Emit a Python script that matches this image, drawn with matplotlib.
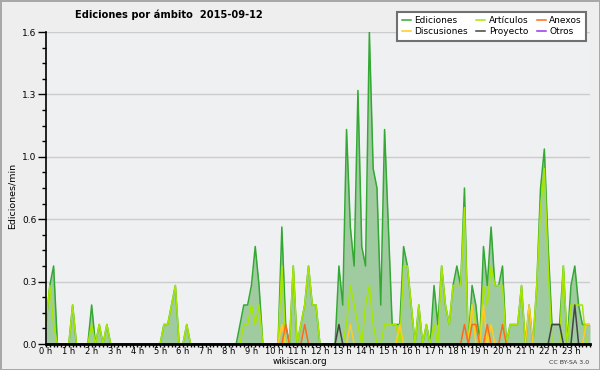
import numpy as np
import matplotlib.pyplot as plt
from matplotlib.ticker import MultipleLocator, FormatStrFormatter
from matplotlib.lines import Line2D

plt.rcParams['font.family'] = ['DejaVu Sans']

# 10-minute bins, edits per minute (one row per hour)
ediciones = [
    0.1, 0.3, 0.4, 0, 0, 0,
    0, 0.2, 0, 0, 0, 0,
    0.2, 0, 0.1, 0, 0.1, 0,
    0, 0, 0, 0, 0, 0,
    0, 0, 0, 0, 0, 0,
    0, 0.1, 0.1, 0.2, 0.3, 0,
    0, 0.1, 0, 0, 0, 0,
    0, 0, 0, 0, 0, 0,
    0, 0, 0, 0.1, 0.2, 0.2,
    0.3, 0.5, 0.3, 0, 0, 0,
    0, 0, 0.6, 0.1, 0, 0.4,
    0, 0.1, 0.2, 0.4, 0.2, 0.2,
    0, 0, 0, 0, 0, 0.4,
    0.2, 1.1, 0.6, 0.4, 1.3, 0.5,
    0.4, 1.6, 0.9, 0.8, 0.2, 1.1,
    0.6, 0.1, 0.1, 0.1, 0.5, 0.4,
    0.2, 0, 0.2, 0, 0.1, 0,
    0.3, 0.1, 0.4, 0.2, 0.1, 0.3,
    0.4, 0.3, 0.8, 0, 0.3, 0.2,
    0, 0.5, 0.3, 0.6, 0.3, 0.3,
    0.4, 0, 0.1, 0.1, 0.1, 0.3,
    0, 0.2, 0, 0.3, 0.8, 1.0,
    0.5, 0.1, 0.1, 0.1, 0.4, 0,
    0.3, 0.4, 0.2, 0.1, 0.1, 0.1,
]

articulos = [
    0.1, 0.3, 0.1, 0, 0, 0,
    0, 0.2, 0, 0, 0, 0,
    0.1, 0, 0.1, 0, 0.1, 0,
    0, 0, 0, 0, 0, 0,
    0, 0, 0, 0, 0, 0,
    0, 0.1, 0.1, 0.2, 0.3, 0,
    0, 0.1, 0, 0, 0, 0,
    0, 0, 0, 0, 0, 0,
    0, 0, 0, 0, 0.1, 0.1,
    0.2, 0.1, 0.2, 0, 0, 0,
    0, 0, 0.4, 0, 0, 0.4,
    0, 0.1, 0.2, 0.4, 0.2, 0.2,
    0, 0, 0, 0, 0, 0,
    0, 0.1, 0.3, 0.2, 0.1, 0,
    0.2, 0.3, 0.1, 0, 0, 0.1,
    0.1, 0.1, 0.1, 0, 0.4, 0.4,
    0.2, 0, 0.2, 0, 0.1, 0,
    0.1, 0, 0.4, 0.2, 0.1, 0.3,
    0.3, 0.3, 0.7, 0, 0.2, 0.1,
    0, 0.3, 0.2, 0.4, 0.3, 0.3,
    0.3, 0, 0.1, 0.1, 0.1, 0.3,
    0, 0, 0, 0.3, 0.7, 0.9,
    0.4, 0, 0, 0, 0.4, 0,
    0.2, 0.2, 0.2, 0.2, 0, 0,
]

# sparse series: {bin: value}
anexos_pts = {63: 0.1, 68: 0.1, 110: 0.1, 112: 0.1, 113: 0.1, 116: 0.1, 120: 0.1}
discusiones_pts = {62: 0.1, 80: 0.1, 93: 0.1, 112: 0.2, 115: 0.2, 117: 0.1,
                   127: 0.2, 142: 0.1, 143: 0.1}
proyecto_pts = {77: 0.1, 133: 0.1, 134: 0.1, 135: 0.1, 139: 0.2}
otros_pts = {}

hours = np.arange(144) / 6.0


def dense(pts):
    v = np.zeros(144)
    for k, val in pts.items():
        v[k] = val
    return v


anexos = dense(anexos_pts)
discusiones = dense(discusiones_pts)
proyecto = dense(proyecto_pts)
otros = dense(otros_pts)

c_ed = '#33a833'
c_art = '#a6e600'
c_anx = '#ff6a1a'
c_dis = '#ffcc22'
c_pro = '#444444'
c_otr = '#9933ee'

fig = plt.figure(figsize=(6, 3.7), dpi=100, facecolor='#eeeeee')
fig.patch.set_edgecolor('#a8a8a8')
fig.patch.set_linewidth(2)
ax = fig.add_axes([46 / 600, 26 / 370, 544 / 600, 312 / 370])
ax.set_facecolor('#eff0f2')

ax.fill_between(hours, ediciones, color='#a0cba0', lw=0, zorder=1)
ax.plot(hours, otros, color=c_otr, lw=1.1, zorder=2)
ax.plot(hours, ediciones, color=c_ed, lw=1.1, zorder=2)
ax.plot(hours, articulos, color=c_art, lw=1.1, zorder=2)
ax.plot(hours, discusiones, color=c_dis, lw=1.1, zorder=2)
ax.plot(hours, anexos, color=c_anx, lw=1.1, zorder=2)
ax.plot(hours, proyecto, color=c_pro, lw=1.1, zorder=2)

ax.set_xlim(0, 143 / 6)
ax.set_ylim(0, 1.6)
ax.set_yticks(np.linspace(0, 1.6, 6))
ax.yaxis.set_major_formatter(FormatStrFormatter('%.1f'))
ax.yaxis.set_minor_locator(MultipleLocator(0.08))
ax.set_xticks(np.arange(24))
ax.set_xticklabels(['%d h' % h for h in range(24)])
ax.xaxis.set_minor_locator(MultipleLocator(1 / 6))
ax.tick_params(axis='y', labelsize=6.5, colors='black', pad=1)
ax.tick_params(axis='x', labelsize=6, colors='black', pad=0)
ax.tick_params(axis='y', which='major', length=6, width=1)
ax.tick_params(axis='y', which='minor', length=3, width=1)
ax.tick_params(axis='x', which='both', length=2.5, width=1)
ax.yaxis.grid(True, color='#cccccc', lw=1)
ax.set_axisbelow(True)
for s in ['top', 'right']:
    ax.spines[s].set_visible(False)
ax.spines['left'].set_linewidth(1.2)
ax.spines['bottom'].set_linewidth(2)

fig.text(75 / 600, 1 - 15 / 370, 'Ediciones por ámbito  2015-09-12',
         fontsize=7.1, fontweight='bold', va='center', ha='left')
fig.text(12 / 600, 1 - 196 / 370, 'Ediciones/min', rotation=90,
         fontsize=6.8, va='center', ha='center')
fig.text(0.5, 1 - 362 / 370, 'wikiscan.org', fontsize=6.3, ha='center', va='center')
fig.text(589 / 600, 1 - 362 / 370, 'CC BY-SA 3.0', fontsize=4.5, ha='right',
         va='center', color='#333333')

handles = [Line2D([], [], color=c_ed, lw=1.1), Line2D([], [], color=c_dis, lw=1.1),
           Line2D([], [], color=c_art, lw=1.1), Line2D([], [], color=c_pro, lw=1.1),
           Line2D([], [], color=c_anx, lw=1.1), Line2D([], [], color=c_otr, lw=1.1)]
labels = ['Ediciones', 'Discusiones', 'Artículos', 'Proyecto', 'Anexos', 'Otros']
leg = fig.legend(handles, labels, ncol=3, loc='upper right',
                 bbox_to_anchor=(591 / 600, 1 - 7 / 370), fontsize=6.5,
                 handlelength=1.0, handletextpad=0.4, columnspacing=0.9,
                 labelspacing=0.25, borderpad=0.5, fancybox=False, framealpha=1)
leg.get_frame().set_edgecolor('#707070')
leg.get_frame().set_linewidth(1.5)

fig.savefig('out.png', dpi=100, facecolor=fig.get_facecolor(),
            edgecolor=fig.get_edgecolor())
